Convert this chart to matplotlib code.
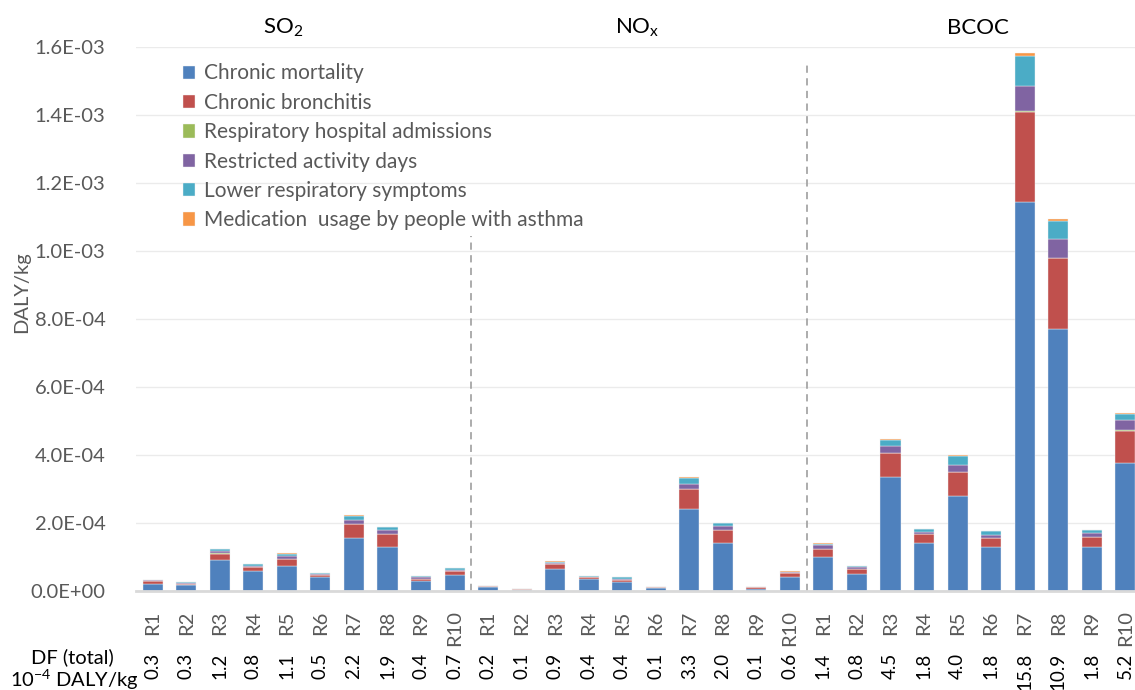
import numpy as np
import matplotlib
matplotlib.use("Agg")
import matplotlib.pyplot as plt

plt.rcParams['font.family'] = ['Lato', 'DejaVu Sans']
plt.rcParams['mathtext.fontset'] = 'custom'
plt.rcParams['mathtext.rm'] = 'Lato'
plt.rcParams['mathtext.it'] = 'Lato:italic'

# Damage per kg emitted, in units of 1e-4 DALY/kg, regions R1..R10 per pollutant
regions = ['R1', 'R2', 'R3', 'R4', 'R5', 'R6', 'R7', 'R8', 'R9', 'R10']
pollutants = ['SO$_2$', 'NO$_\\mathregular{x}$', 'BCOC']

chronic_mortality = [
    0.22, 0.17, 0.90, 0.59, 0.75, 0.40, 1.57, 1.30, 0.29, 0.47,      # SO2
    0.11, 0.03, 0.64, 0.34, 0.27, 0.09, 2.42, 1.41, 0.07, 0.40,      # NOx
    1.00, 0.51, 3.35, 1.40, 2.78, 1.30, 11.43, 7.72, 1.30, 3.76,     # BCOC
]
chronic_bronchitis = [
    0.07, 0.05, 0.20, 0.12, 0.19, 0.07, 0.39, 0.37, 0.07, 0.12,
    0.03, 0.02, 0.14, 0.06, 0.05, 0.02, 0.57, 0.39, 0.04, 0.12,
    0.23, 0.15, 0.71, 0.27, 0.72, 0.25, 2.67, 2.06, 0.29, 0.96,
]
hospital_admissions = [
    0.00, 0.00, 0.01, 0.00, 0.01, 0.00, 0.01, 0.01, 0.00, 0.00,
    0.00, 0.00, 0.00, 0.00, 0.00, 0.00, 0.01, 0.00, 0.00, 0.00,
    0.01, 0.00, 0.01, 0.00, 0.01, 0.01, 0.02, 0.02, 0.01, 0.01,
]
restricted_activity = [
    0.02, 0.02, 0.07, 0.04, 0.07, 0.03, 0.12, 0.11, 0.04, 0.04,
    0.01, 0.01, 0.04, 0.02, 0.03, 0.01, 0.15, 0.10, 0.01, 0.03,
    0.10, 0.04, 0.19, 0.08, 0.19, 0.08, 0.73, 0.56, 0.10, 0.29,
]
lower_respiratory = [
    0.02, 0.02, 0.05, 0.04, 0.08, 0.03, 0.12, 0.09, 0.03, 0.04,
    0.01, 0.005, 0.04, 0.02, 0.05, 0.01, 0.18, 0.10, 0.01, 0.02,
    0.05, 0.03, 0.17, 0.07, 0.26, 0.12, 0.88, 0.52, 0.09, 0.18,
]
medication_asthma = [
    0.00, 0.00, 0.01, 0.01, 0.01, 0.00, 0.02, 0.01, 0.00, 0.01,
    0.00, 0.00, 0.01, 0.00, 0.00, 0.00, 0.03, 0.01, 0.00, 0.01,
    0.01, 0.01, 0.03, 0.005, 0.03, 0.01, 0.08, 0.07, 0.01, 0.03,
]

df_total = ['0.3', '0.3', '1.2', '0.8', '1.1', '0.5', '2.2', '1.9', '0.4', '0.7',
            '0.2', '0.1', '0.9', '0.4', '0.4', '0.1', '3.3', '2.0', '0.1', '0.6',
            '1.4', '0.8', '4.5', '1.8', '4.0', '1.8', '15.8', '10.9', '1.8', '5.2']

series = [
    ('Chronic mortality', chronic_mortality, '#4F81BD'),
    ('Chronic bronchitis', chronic_bronchitis, '#C0504D'),
    ('Respiratory hospital admissions', hospital_admissions, '#9BBB59'),
    ('Restricted activity days', restricted_activity, '#8064A2'),
    ('Lower respiratory symptoms', lower_respiratory, '#4BACC6'),
    ('Medication  usage by people with asthma', medication_asthma, '#F79646'),
]

grey = '#595959'
W, H = 1135, 690
fig = plt.figure(figsize=(W / 100, H / 100), dpi=100)
ax = fig.add_axes([136 / W, (H - 591) / H, 1006 / W, 544 / H])

x = np.arange(len(chronic_mortality))
bottom = np.zeros(len(x))
for name, vals, color in series:
    v = np.array(vals) * 1e-4
    ax.bar(x, v, 0.6, bottom=bottom, color=color, label=name,
           edgecolor='#f2f2f2', linewidth=0.3)
    bottom += v

ax.set_xlim(-0.5, len(x) - 0.5)
ax.set_ylim(0, 1.6e-3)
yticks = np.arange(0, 1.61e-3, 2e-4)
ax.set_yticks(yticks)
ax.set_yticklabels([f'{t:.1E}' for t in yticks])
ax.set_xticks(x)
ax.set_xticklabels(regions * 3, rotation=90, va='top')
ax.tick_params(axis='both', length=0, labelsize=14.5, labelcolor=grey)
ax.tick_params(axis='x', pad=14)
ax.tick_params(axis='y', pad=22)
ax.grid(axis='y', color='#ebebeb', linewidth=1)
ax.set_axisbelow(True)
for s in ['top', 'right', 'left']:
    ax.spines[s].set_visible(False)
ax.spines['bottom'].set_color('#d9d9d9')
ax.spines['bottom'].set_linewidth(2)

# dashed separators between pollutant groups
ax.vlines(9.5, 0, 1.043e-3, colors='#a6a6a6', linestyles=(0, (4, 3)), linewidth=1.3)
ax.vlines(19.5, 0, 1.559e-3, colors='#a6a6a6', linestyles=(0, (4, 3)), linewidth=1.3)

ax_tr = ax.get_xaxis_transform()
# pollutant headers
for xpos, name in zip([3.88, 14.44, 24.6], pollutants):
    ax.text(xpos, 1.035, name, transform=ax_tr,
            ha='center', va='center', fontsize=16, color='black')
# total damage factor per region under the axis
for xi, label in zip(x, df_total):
    ax.text(xi, -0.113, label, transform=ax_tr, rotation=90,
            ha='center', va='top', fontsize=13.5, color='black')
fig.text(72 / W, 1 - 657 / H, 'DF (total)', ha='center', va='center', fontsize=14.5)
fig.text(74 / W, 1 - 680 / H, '10$^{-4}$ DALY/kg', ha='center', va='center', fontsize=14.5)

fig.text(22 / W, 1 - 292 / H, 'DALY/kg', rotation=90, ha='center', va='center',
         fontsize=14.5, color=grey)

ax.legend(loc='upper left', bbox_to_anchor=(0.038, 0.985), frameon=False,
          fontsize=15, labelcolor=grey, handlelength=0.6, handleheight=0.6,
          handletextpad=0.45, labelspacing=0.45, borderaxespad=0)

fig.savefig('out.png', dpi=100)
